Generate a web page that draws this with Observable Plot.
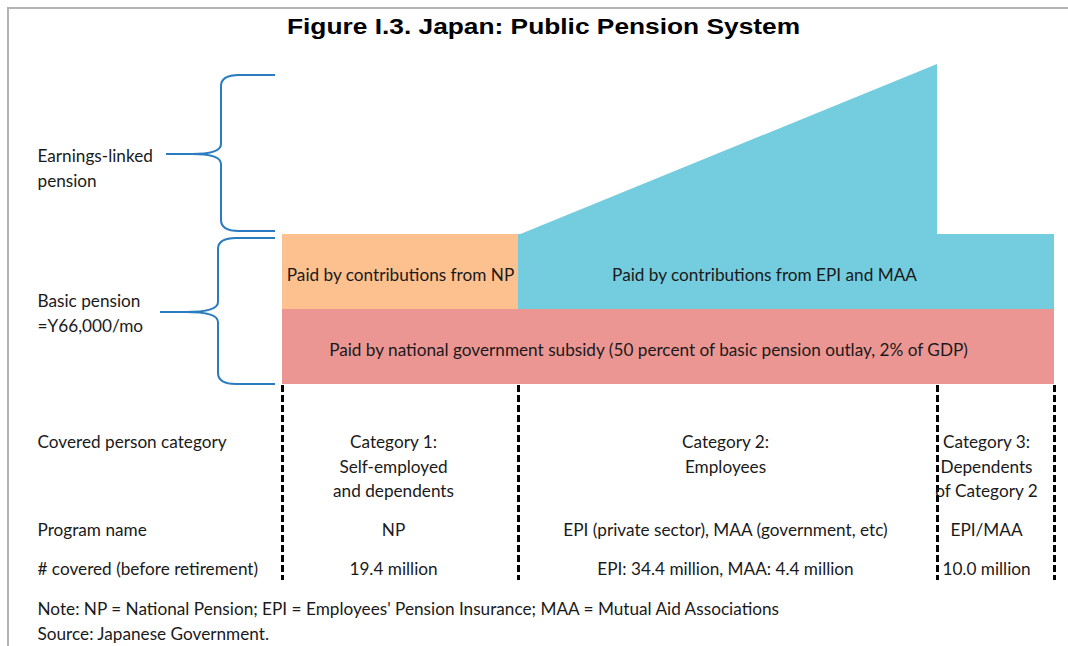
<!DOCTYPE html>
<html>
<head>
<meta charset="utf-8">
<script src="https://cdn.jsdelivr.net/npm/d3@7"></script>
<script src="https://cdn.jsdelivr.net/npm/@observablehq/plot@0.6"></script>
<style>
  html, body { margin: 0; padding: 0; background: #fff; }
  #chart svg { display: block; }
</style>
</head>
<body>
<div id="chart"></div>
<script>
// ---------- content ----------
const title = "Figure I.3. Japan: Public Pension System";
const rowLabels = ["Covered person category", "Program name", "# covered (before retirement)"];
const categories = ["Category 1:\nSelf-employed\nand dependents", "Category 2:\nEmployees", "Category 3:\nDependents\nof Category 2"];
const programs = ["NP", "EPI (private sector), MAA (government, etc)", "EPI/MAA"];
const coveredCounts = ["19.4 million", "EPI: 34.4 million, MAA: 4.4 million", "10.0 million"];
const tierLabels = ["Earnings-linked\npension", "Basic pension\n=Y66,000/mo"];
const fundingLabels = ["Paid by contributions from NP", "Paid by contributions from EPI and MAA",
  "Paid by national government subsidy (50 percent of basic pension outlay, 2% of GDP)"];
const notes = ["Note: NP = National Pension; EPI = Employees' Pension Insurance; MAA = Mutual Aid Associations",
  "Source: Japanese Government."];

// ---------- layout (pixel units of the figure) ----------
const W = 1068, H = 646;
const colEdges = [282, 518, 937, 1054];          // column boundaries
const colText = [393, 725, 986];                  // text centres per column
const rowY = [440, 528, 567];                      // row text centres
const barTop = 234, barMid = 309, barBot = 384, wedgeTop = 64;
const dashBottom = 580;
const leftX = 37;
const colors = {np: "#fdc08f", epi: "#73cddf", gov: "#ec9694", brace: "#2a7bbf", text: "#1a1a1a"};
const font = "Lato, 'Open Sans', sans-serif";
const fs = 17.2;

const rects = [
  {x1: colEdges[0], x2: colEdges[1], y1: barTop, y2: barMid, fill: colors.np},
  {x1: colEdges[1], x2: colEdges[3], y1: barTop, y2: barMid, fill: colors.epi},
  {x1: colEdges[0], x2: colEdges[3], y1: barMid, y2: barBot, fill: colors.gov}
];
const wedge = [
  {x: colEdges[1], y1: barTop, y2: barTop + 1},
  {x: colEdges[2], y1: barTop + 1, y2: wedgeTop}
];
const braces = [
  {xe: 275, xv: 221, x0: 166, yt: 75, ym: 154, yb: 231},
  {xe: 275, xv: 218, x0: 160, yt: 238, ym: 312, yb: 384}
];

function braceMark(index, scales) {
  const g = d3.create("svg:g");
  for (const b of braces) {
    const xe = scales.x(b.xe), xv = scales.x(b.xv), x0 = scales.x(b.x0);
    const yt = scales.y(b.yt), ym = scales.y(b.ym), yb = scales.y(b.yb);
    const p = d3.path();
    p.moveTo(xe, yt);
    p.lineTo(xv + 18, yt);
    p.quadraticCurveTo(xv, yt, xv, yt + 11);
    p.lineTo(xv, ym - 10);
    p.quadraticCurveTo(xv, ym, x0 + 26, ym);
    p.lineTo(x0, ym);
    p.moveTo(x0 + 26, ym);
    p.quadraticCurveTo(xv, ym, xv, ym + 10);
    p.lineTo(xv, yb - 11);
    p.quadraticCurveTo(xv, yb, xv + 18, yb);
    p.lineTo(xe, yb);
    g.append("path").attr("d", p.toString())
      .attr("fill", "none").attr("stroke", colors.brace)
      .attr("stroke-width", 2).attr("stroke-linejoin", "round");
  }
  return g.node();
}

function frameMark(index, scales) {
  const g = d3.create("svg:g");
  g.append("path").attr("d", `M${scales.x(W)},${scales.y(8)}H${scales.x(8)}V${scales.y(H)}`)
    .attr("fill", "none").attr("stroke", "#b3b3b3").attr("stroke-width", 2);
  return g.node();
}

const textOpts = {fontFamily: font, fontSize: fs, fill: colors.text, lineHeight: 1.42};

const colRows = [];
[categories, programs, coveredCounts].forEach((arr, r) => {
  arr.forEach((t, c) => colRows.push({text: t, x: colText[c], y: rowY[r], row: r}));
});

const plot = Plot.plot({
  width: W, height: H,
  margin: 0,
  x: {domain: [0, W], range: [0, W], axis: null},
  y: {domain: [0, H], range: [0, H], axis: null},
  marks: [
    frameMark,
    Plot.rect(rects, {x1: "x1", x2: "x2", y1: "y1", y2: "y2", fill: d => d.fill, inset: 0}),
    Plot.areaY(wedge, {x: "x", y1: "y1", y2: "y2", fill: colors.epi}),
    Plot.ruleX(colEdges, {y1: barBot + 1, y2: dashBottom, stroke: "#000", strokeWidth: 3, strokeDasharray: "7,3"}),
    braceMark,
    // title
    Plot.text([title], {x: 543, y: 26, text: d => d, fontFamily: "'Liberation Sans', Arial, sans-serif",
      fontWeight: "bold", fontSize: 22.5, fill: "#000"}),
    // tier labels
    Plot.text(tierLabels, {x: leftX, y: (d, i) => [166, 311][i], text: d => d, textAnchor: "start", ...textOpts}),
    // funding labels
    Plot.text(fundingLabels, {x: (d, i) => [400, 764, 648][i], y: (d, i) => [273, 273, 348][i], text: d => d, ...textOpts}),
    // row labels
    Plot.text(rowLabels, {x: leftX, y: (d, i) => rowY[i], text: d => d, textAnchor: "start", ...textOpts}),
    // column cells
    Plot.text(colRows, {x: "x", y: "y", text: "text", lineAnchor: "top", dy: -9.5, ...textOpts}),
    // notes
    Plot.text(notes, {x: leftX, y: (d, i) => [607, 632][i], text: d => d, textAnchor: "start", ...textOpts})
  ]
});
// the reference title is horizontally stretched
d3.select(plot).selectAll("text").filter(function () { return this.textContent === title; })
  .attr("transform", function () { return (this.getAttribute("transform") || "") + " scale(1.17,1)"; });
document.getElementById("chart").appendChild(plot);
</script>
</body>
</html>
